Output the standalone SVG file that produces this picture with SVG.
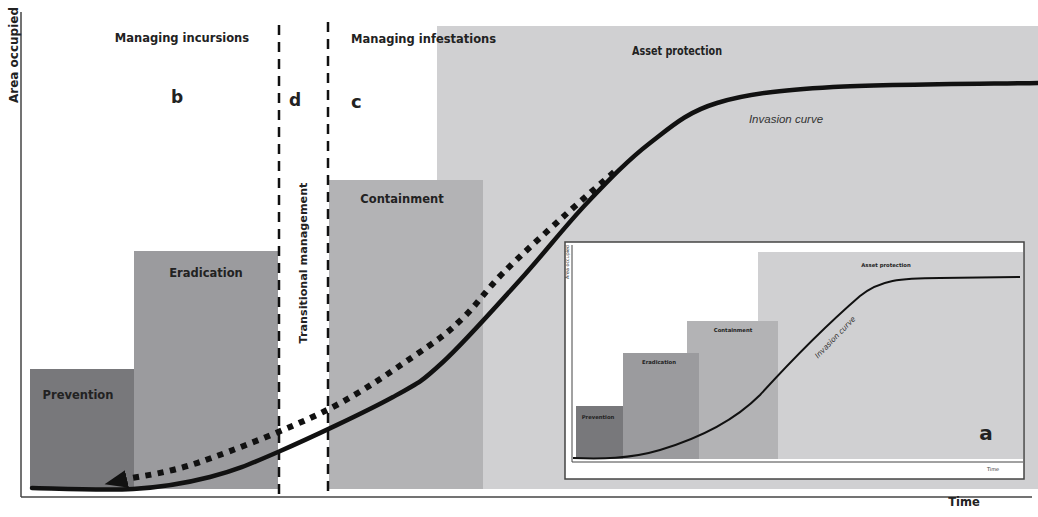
<svg xmlns="http://www.w3.org/2000/svg" width="1038" height="517" viewBox="0 0 1038 517">
  <style>
    .lbl { font-family: "DejaVu Sans", Verdana, sans-serif; font-weight: bold; fill: #222; }
    .big { font-size: 11.5px; }
    .letter { font-size: 17px; }
    .small { font-size: 5.3px; }
    .ital { font-family: "Liberation Sans", Arial, sans-serif; font-style: italic; fill: #333; }
    .axis { stroke: #444; stroke-width: 1.5; fill: none; }
    .divider { stroke: #111; stroke-width: 2.5; stroke-dasharray: 10 7; fill: none; }
    .curve { stroke: #111; stroke-width: 4.5; fill: none; stroke-linecap: round; }
    .reverse { stroke: #111; stroke-width: 6; stroke-dasharray: 6 6.5; fill: none; }
    .prev { fill: #78787b; }
    .erad { fill: #9b9b9e; }
    .cont { fill: #b3b3b5; }
    .asset { fill: #d0d0d2; }
  </style>
  <defs>
    <marker id="head" markerUnits="userSpaceOnUse" viewBox="0 -11 24 22" refX="0" refY="0" markerWidth="24" markerHeight="22" orient="auto">
      <path d="M0,-9 L23,0 L0,9 z" fill="#111"/>
    </marker>
  </defs>

  <rect width="1038" height="517" fill="#ffffff"/>

  <!-- management phases -->
  <g id="asset-protection">
    <rect class="asset" x="437" y="26" width="601" height="463"/>
    <text class="lbl" x="677" y="55" font-size="12" text-anchor="middle" textLength="90" lengthAdjust="spacingAndGlyphs">Asset protection</text>
  </g>
  <g id="prevention">
    <rect class="prev" x="30" y="369" width="104" height="120"/>
    <text class="lbl big" x="78" y="399" text-anchor="middle">Prevention</text>
  </g>
  <g id="eradication">
    <rect class="erad" x="134" y="251" width="144" height="238"/>
    <text class="lbl big" x="206" y="277" text-anchor="middle">Eradication</text>
  </g>
  <g id="containment">
    <rect class="cont" x="329" y="180" width="154" height="309"/>
    <text class="lbl big" x="402" y="203" text-anchor="middle">Containment</text>
  </g>
  <g id="transitional-management">
    <text class="lbl" font-size="11.2" transform="translate(307,263) rotate(-90)" text-anchor="middle">Transitional management</text>
  </g>

  <!-- phase headings -->
  <g id="managing-incursions">
    <text class="lbl big" x="182" y="42" text-anchor="middle">Managing incursions</text>
    <text class="lbl letter" x="177" y="103" text-anchor="middle">b</text>
  </g>
  <g id="managing-infestations">
    <text class="lbl big" x="351" y="43">Managing infestations</text>
    <text class="lbl" font-size="18" x="351" y="108">c</text>
  </g>
  <g id="transition-label">
    <text class="lbl letter" x="295" y="106" text-anchor="middle">d</text>
  </g>

  <!-- axes -->
  <g id="axes">
    <line class="axis" x1="21" y1="12" x2="21" y2="497"/>
    <line class="axis" x1="21" y1="497" x2="1032" y2="497"/>
    <text class="lbl" font-size="12" transform="translate(18,55) rotate(-90)" text-anchor="middle">Area occupied</text>
    <text class="lbl big" x="964" y="506" text-anchor="middle">Time</text>
  </g>

  <!-- connectors: phase dividers, invasion curve and reversal arrow -->
  <g id="connectors">
    <line class="divider" x1="279" y1="25" x2="279" y2="498"/>
    <line class="divider" x1="328" y1="22" x2="328" y2="498"/>
    <path class="curve" d="M32,488 C48.8,488.2 103.3,490.8 133,489 C162.7,487.2 185.8,483.2 210,477 C234.2,470.8 247.5,465.3 278,452 C308.5,438.7 365.5,412 393,397 C420.5,382 421.8,381.5 443,362 C464.2,342.5 496,306.5 520,280 C544,253.5 565.3,225.8 587,203 C608.7,180.2 628.3,159.7 650,143 C671.7,126.3 686.5,112.3 717,103 C747.5,93.7 779.5,90.3 833,87 C886.5,84.2 1003.8,83.7 1038,83"/>
    <path class="reverse" marker-end="url(#head)" d="M614,172 C605.5,179.5 581.5,200.2 563,217 C544.5,233.8 519.7,256.2 503,273 C486.3,289.8 476.8,304.8 463,318 C449.2,331.2 442.7,336.7 420,352 C397.3,367.3 363.7,391.7 327,410 C290.3,428.3 233.3,450.5 200,462 C166.7,473.5 139.2,476.2 127,479"/>
  </g>
  <g id="curve-label">
    <text class="ital" font-size="11.5" x="786" y="123" text-anchor="middle">Invasion curve</text>
  </g>

  <!-- panel a: overview of the same phases -->
  <g id="panel-a">
    <rect x="565" y="242" width="459" height="237" fill="#ffffff" stroke="#444" stroke-width="1.5"/>
    <rect class="asset" x="758" y="252" width="265" height="207"/>
    <rect class="cont" x="687" y="321" width="91" height="138"/>
    <rect class="erad" x="623" y="353" width="76" height="106"/>
    <rect class="prev" x="576" y="406" width="47" height="53"/>
    <line stroke="#444" stroke-width="1" x1="572" y1="245" x2="572" y2="462"/>
    <line stroke="#444" stroke-width="1" x1="572" y1="462" x2="1023" y2="462"/>
    <text x="569" y="262" font-family="DejaVu Sans, sans-serif" font-size="4.8" fill="#333" transform="rotate(-90 569 262)" text-anchor="middle">Area occupied</text>
    <text x="993" y="471" font-family="DejaVu Sans, sans-serif" font-size="5" fill="#333" text-anchor="middle">Time</text>
    <text class="lbl small" x="886" y="267" text-anchor="middle">Asset protection</text>
    <text class="lbl small" x="733" y="332" text-anchor="middle">Containment</text>
    <text class="lbl small" x="659" y="364" text-anchor="middle">Eradication</text>
    <text class="lbl small" x="598" y="419" text-anchor="middle">Prevention</text>
    <path fill="none" stroke="#111" stroke-width="2" d="M573,458 C600,459 630,459 660,450 C700,438 735,420 760,395 C790,362 830,322 860,296 C880,280 900,278 940,278 L1020,277"/>
    <text x="837" y="339" font-family="DejaVu Sans, sans-serif" font-style="italic" font-size="7.5" fill="#333" text-anchor="middle" transform="rotate(-46 837 339)">Invasion curve</text>
    <text class="lbl" font-size="20" x="986" y="440" text-anchor="middle">a</text>
  </g>
</svg>
